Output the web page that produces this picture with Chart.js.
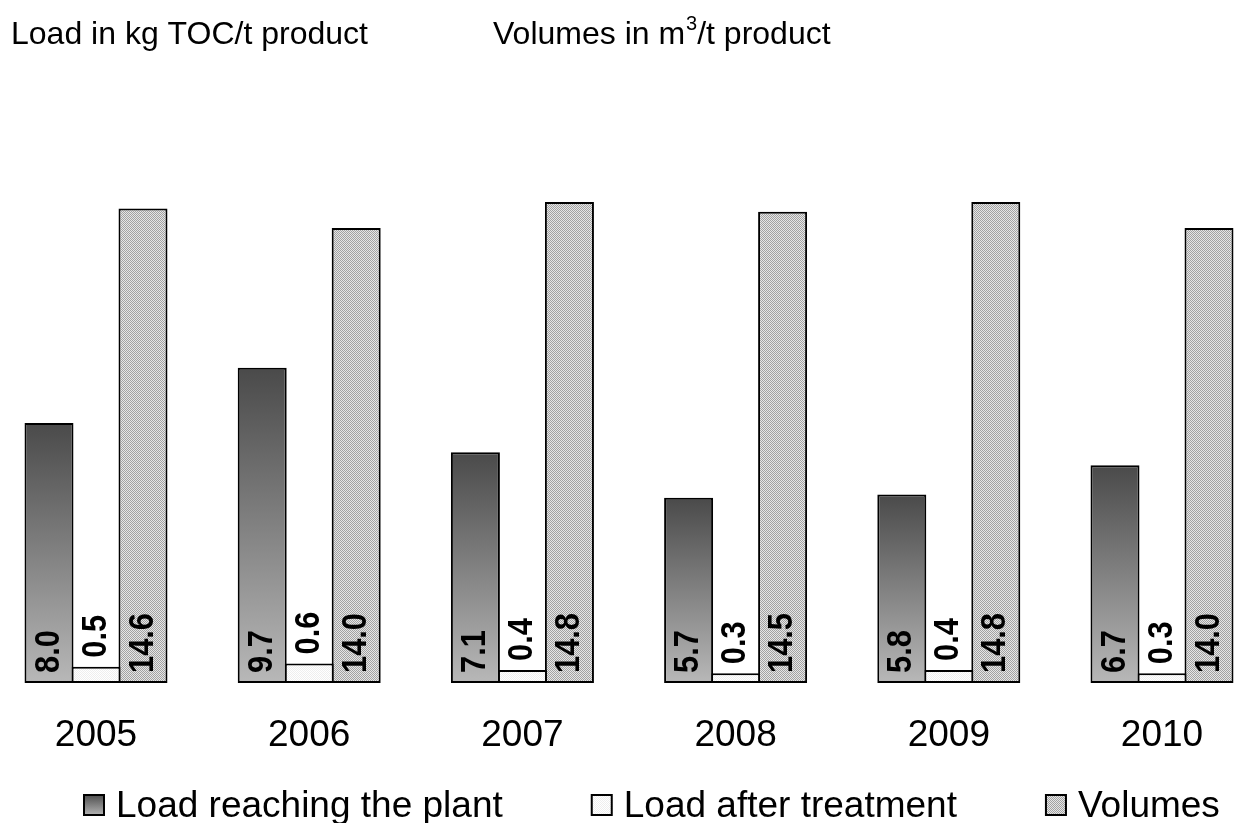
<!DOCTYPE html>
<html>
<head>
<meta charset="utf-8">
<title>TOC load and wastewater volumes 2005–2010</title>
<script src="https://cdn.jsdelivr.net/npm/chart.js@4.4.1/dist/chart.umd.min.js"></script>
<style>
  html, body { margin: 0; padding: 0; background: #ffffff; }
  canvas { display: block; }
</style>
</head>
<body>
<canvas id="chart" width="1237" height="823"></canvas>
<script>
// Yearly figures per tonne of product
const years = ['2005', '2006', '2007', '2008', '2009', '2010'];
const loadReaching = [8.0, 9.7, 7.1, 5.7, 5.8, 6.7];   // kg TOC/t product
const loadAfter = [0.5, 0.6, 0.4, 0.3, 0.4, 0.3];      // kg TOC/t product
const volumes = [14.6, 14.0, 14.8, 14.5, 14.8, 14.0];  // m3/t product
const seriesNames = ['Load reaching the plant', 'Load after treatment', 'Volumes'];

const FONT = "'Liberation Sans', Arial, Helvetica, sans-serif";

// Small repeating fills for the textured bars
function checker(dark, light) {
  const cv = document.createElement('canvas');
  cv.width = 2; cv.height = 2;
  const g = cv.getContext('2d');
  g.fillStyle = light; g.fillRect(0, 0, 2, 2);
  g.fillStyle = dark; g.fillRect(0, 0, 1, 1); g.fillRect(1, 1, 1, 1);
  return g.createPattern(cv, 'repeat');
}
const volumePattern = checker('#a2a2a2', '#e6e6e6');
const afterPattern = checker('#eeeeee', '#ffffff');

function verticalGradient(c, top, bottom) {
  const g = c.createLinearGradient(0, top, 0, bottom);
  g.addColorStop(0, '#4a4a4a');
  g.addColorStop(1, '#b8b8b8');
  return g;
}

// Dark bars fade from dark at the top to light at the base
function reachingFill(ctx) {
  const chart = ctx.chart;
  const y = chart.scales.y;
  if (!chart.chartArea || !y || ctx.type !== 'data') return '#808080';
  return verticalGradient(chart.ctx, y.getPixelForValue(ctx.raw), y.getPixelForValue(0));
}

// Rotated value labels: at the base of the tall bars, just above the small ones
const valueLabels = {
  id: 'valueLabels',
  afterDatasetsDraw(chart) {
    const c = chart.ctx;
    c.save();
    c.font = 'bold 35px ' + FONT;
    c.fillStyle = '#000000';
    c.textAlign = 'left';
    c.textBaseline = 'middle';
    chart.data.datasets.forEach((ds, di) => {
      chart.getDatasetMeta(di).data.forEach((bar, i) => {
        const start = di === 1 ? bar.y - 9 : bar.base - 10;
        c.save();
        c.translate(bar.x, start);
        c.rotate(-Math.PI / 2);
        c.scale(0.88, 1);
        c.fillText(ds.data[i].toFixed(1), 0, 0);
        c.restore();
      });
    });
    c.restore();
  }
};

// Unit captions across the top
const headings = {
  id: 'headings',
  afterDraw(chart) {
    const c = chart.ctx;
    c.save();
    c.fillStyle = '#000000';
    c.textAlign = 'left';
    c.textBaseline = 'alphabetic';
    c.font = '32px ' + FONT;
    c.fillText('Load in kg TOC/t product', 11, 44);
    let x = 493;
    c.fillText('Volumes in m', x, 44);
    x += c.measureText('Volumes in m').width;
    c.font = '20px ' + FONT;
    c.fillText('3', x + 1, 30);
    x += c.measureText('3').width + 1;
    c.font = '32px ' + FONT;
    c.fillText('/t product', x, 44);
    c.restore();
  }
};

// Legend row along the bottom edge
const legendRow = {
  id: 'legendRow',
  afterDraw(chart) {
    const c = chart.ctx;
    const box = 22, top = 794, baseline = 817, gap = 88;
    let x = 83;
    c.save();
    c.font = '37px ' + FONT;
    c.fillStyle = '#000000';
    c.textBaseline = 'alphabetic';
    chart.data.datasets.forEach((ds, di) => {
      let fill;
      if (di === 0) fill = verticalGradient(c, top, top + box);
      else if (di === 1) fill = afterPattern;
      else fill = volumePattern;
      c.fillStyle = fill;
      c.fillRect(x, top, box, box);
      c.lineWidth = 2;
      c.strokeStyle = '#000000';
      c.strokeRect(x + 1, top + 1, box - 2, box - 2);
      c.fillStyle = '#000000';
      c.fillText(ds.label, x + box + 11, baseline);
      x += box + 11 + c.measureText(ds.label).width + gap;
    });
    c.restore();
  }
};

const whiteBackground = {
  id: 'whiteBackground',
  beforeDraw(chart) {
    const c = chart.ctx;
    c.save();
    c.fillStyle = '#ffffff';
    c.fillRect(0, 0, chart.width, chart.height);
    c.restore();
  }
};

const barStyle = {
  borderColor: '#000000',
  borderWidth: 2,
  borderSkipped: false,
  categoryPercentage: 0.6613,
  barPercentage: 1.0426,
  clip: false
};

new Chart(document.getElementById('chart'), {
  type: 'bar',
  data: {
    labels: years,
    datasets: [
      Object.assign({ label: seriesNames[0], data: loadReaching, backgroundColor: reachingFill }, barStyle),
      Object.assign({ label: seriesNames[1], data: loadAfter, backgroundColor: afterPattern }, barStyle),
      Object.assign({ label: seriesNames[2], data: volumes, backgroundColor: volumePattern }, barStyle)
    ]
  },
  options: {
    responsive: false,
    devicePixelRatio: 1,
    animation: false,
    layout: { padding: { top: 98, left: 96, right: 75, bottom: 40 } },
    scales: {
      x: {
        offset: false,
        grid: { display: false },
        border: { display: false },
        ticks: { color: '#000000', font: { family: FONT, size: 37 }, padding: 23, maxRotation: 0, autoSkip: false },
        afterFit(scale) { scale.height = 100; }
      },
      y: { display: false, min: 0, max: 18 }
    },
    plugins: {
      legend: { display: false },
      title: { display: false },
      tooltip: { enabled: false }
    }
  },
  plugins: [whiteBackground, valueLabels, headings, legendRow]
});
</script>
</body>
</html>
